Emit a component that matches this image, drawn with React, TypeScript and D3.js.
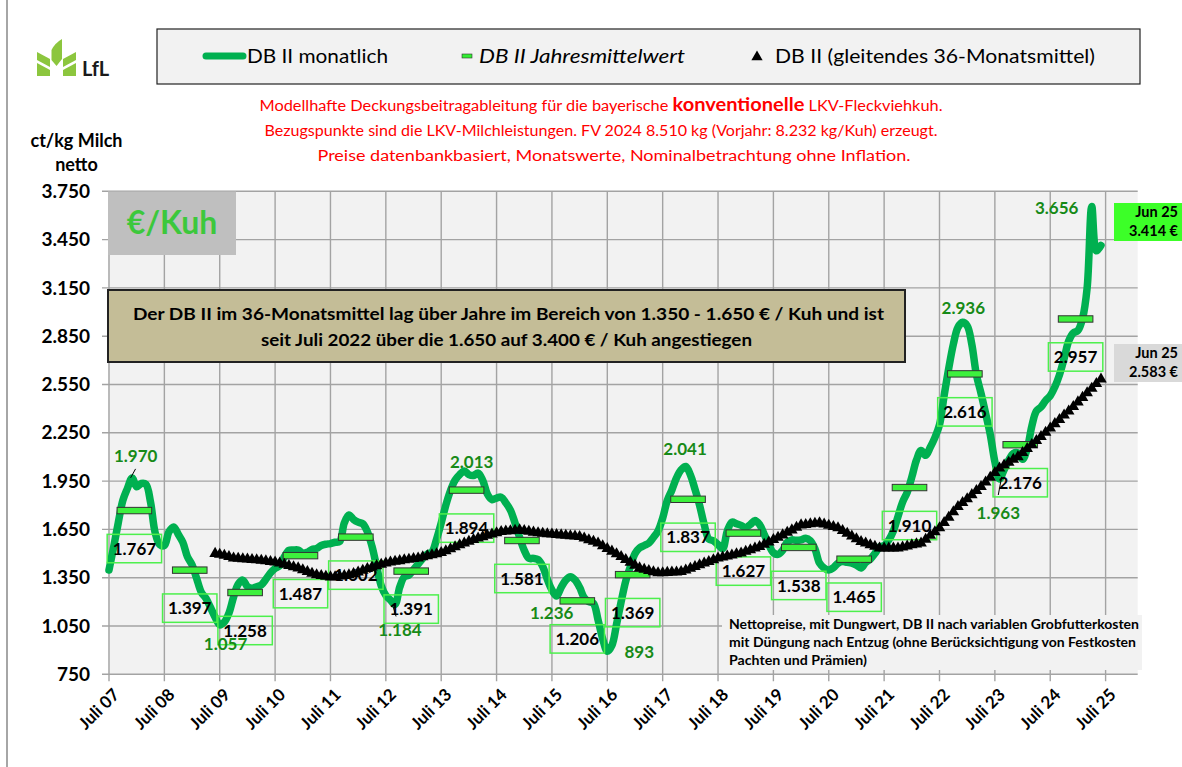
import React from "react";
import * as d3 from "d3";

// ---------- DATA ----------
const yearLabels = [
  "Juli 07", "Juli 08", "Juli 09", "Juli 10", "Juli 11", "Juli 12", "Juli 13",
  "Juli 14", "Juli 15", "Juli 16", "Juli 17", "Juli 18", "Juli 19", "Juli 20",
  "Juli 21", "Juli 22", "Juli 23", "Juli 24", "Juli 25",
];

const yTickValues = [750, 1050, 1350, 1650, 1950, 2250, 2550, 2850, 3150, 3450, 3750];

// DB II monatlich, Jul 07 – Jun 25 (€/Kuh)
const monthlyDB = [
  1398, 1540, 1690, 1830, 1905, 1970, 1915, 1935, 1930, 1820, 1630, 1555,
  1550, 1635, 1665, 1620, 1570, 1480, 1430, 1345, 1260, 1222, 1165, 1105,
  1057, 1075, 1130, 1230, 1310, 1335, 1295, 1285, 1294, 1305, 1340, 1380,
  1408, 1425, 1480, 1520, 1522, 1522, 1502, 1508, 1525, 1532, 1550, 1558,
  1562, 1570, 1575, 1690, 1740, 1712, 1695, 1685, 1636, 1545, 1420, 1300,
  1240, 1211, 1184, 1290, 1355, 1366, 1400, 1435, 1470, 1497, 1510, 1590,
  1690, 1800, 1890, 1955, 1990, 2013, 1990, 1985, 2000, 1955, 1870, 1835,
  1845, 1850, 1815, 1770, 1690, 1600, 1520, 1470, 1470, 1462, 1420, 1340,
  1274, 1236, 1290, 1335, 1356, 1336, 1290, 1225, 1200, 1191, 1087, 970,
  893, 930, 1060, 1200, 1330, 1420, 1500, 1535, 1550, 1565, 1600, 1640,
  1720, 1830, 1895, 1970, 2020, 2041, 1990, 1900, 1800, 1680, 1590, 1580,
  1555, 1530, 1640, 1695, 1685, 1675, 1662, 1680, 1705, 1680, 1620, 1555,
  1505, 1495, 1520, 1570, 1585, 1582, 1585, 1595, 1580, 1530, 1440, 1410,
  1398, 1412, 1440, 1450, 1445, 1440, 1428, 1410, 1445, 1465, 1500, 1540,
  1550, 1584, 1640, 1730, 1820, 1880, 1975, 2080, 2140, 2110, 2160, 2220,
  2300, 2480, 2650, 2800, 2905, 2936, 2915, 2800, 2610, 2495, 2370, 2240,
  2070, 1963, 2020, 2080, 2122, 2125, 2085, 2150, 2290, 2385, 2410, 2450,
  2480, 2535, 2610, 2710, 2820, 2870, 2885, 2960, 3150, 3656, 3380, 3414,
];

// DB II gleitendes 36-Monatsmittel, starts at month index 23 (Jun 09)
const avg36StartIndex = 23;
const avg36 = [
  1500,
  1494, 1488, 1480, 1472, 1470, 1467, 1465, 1462, 1460, 1457, 1454, 1450,
  1447, 1440, 1432, 1425, 1417, 1410, 1399, 1388, 1377, 1367, 1362, 1358,
  1354, 1355, 1359, 1363, 1367, 1375, 1385, 1395, 1406, 1416, 1424, 1432,
  1440, 1447, 1451, 1455, 1460, 1464, 1468, 1472, 1479, 1485, 1492, 1498,
  1505, 1517, 1529, 1541, 1553, 1564, 1575, 1586, 1596, 1604, 1612, 1620,
  1628, 1636, 1639, 1641, 1644, 1646, 1642, 1637, 1632, 1628, 1625, 1622,
  1620, 1617, 1615, 1613, 1610, 1608, 1605, 1595, 1585, 1575, 1565, 1548,
  1531, 1514, 1497, 1480, 1462, 1445, 1427, 1410, 1402, 1394, 1386, 1379,
  1380, 1382, 1384, 1385, 1387, 1397, 1408, 1418, 1429, 1440, 1450, 1461,
  1472, 1478, 1484, 1490, 1497, 1503, 1513, 1523, 1533, 1543, 1557, 1571,
  1586, 1600, 1615, 1631, 1646, 1662, 1677, 1680, 1684, 1687, 1690, 1682,
  1675, 1667, 1659, 1642, 1625, 1608, 1591, 1574, 1564, 1554, 1544, 1534,
  1534, 1534, 1534, 1534, 1540, 1546, 1553, 1559, 1565, 1588, 1612, 1635,
  1659, 1692, 1725, 1758, 1791, 1816, 1840, 1865, 1890, 1915, 1944, 1973,
  2002, 2031, 2049, 2066, 2084, 2101, 2126, 2151, 2176, 2201, 2226, 2253,
  2279, 2306, 2332, 2359, 2385, 2412, 2441, 2469, 2498, 2526, 2555, 2583,
];

// DB II Jahresmittelwert (Juli – Juni)
const annualMeans = [1767, 1397, 1258, 1487, 1602, 1391, 1894, 1581, 1206, 1369, 1837, 1627, 1538, 1465, 1910, 2616, 2176, 2957];

// Extremwerte (month index) that carry green labels
const extremeIndices = [5, 24, 62, 77, 97, 108, 125, 185, 193, 213];

const lastMonthLabel = "Jun 25";

// ---------- LAYOUT (not data) ----------
const extremeOffsets: Record<number, [number, number]> = {
  5: [3.6, -22], 24: [5.8, 19.4], 62: [4.9, 25.6], 77: [7.4, -9.5], 97: [-4.9, 17.2],
  108: [32, 0.4], 125: [-0.7, -17.1], 185: [0.7, -14.1], 193: [-1.2, 33.7], 213: [-35.1, 1.3],
};

const F = "Lato, 'Open Sans', 'DejaVu Sans', sans-serif";
const fmt = (v: number) => (v >= 1000 ? d3.format(",")(v).replace(/,/g, ".") : String(v));

export default function App() {
  const W = 1182, H = 767;
  const plot = { left: 108, right: 1137.7, top: 191.3, bottom: 674.3 };
  const x = d3.scaleLinear().domain([0, 216]).range([109, 1105.6]);
  const y = d3.scaleLinear().domain([750, 3750]).range([plot.bottom, plot.top]);

  const monthlyPath = d3
    .line<number>()
    .x((_, i) => x(i))
    .y((d) => y(d))
    .curve(d3.curveCatmullRom.alpha(0.5))(monthlyDB) as string;

  const triPath = d3.symbol().type(d3.symbolTriangle).size(58)() as string;
  const triLegend = d3.symbol().type(d3.symbolTriangle).size(55)() as string;

  const green = "#00b050";
  const labelGreen = "#178a17";
  const grid = "#a3a3a3";

  const lastVal = monthlyDB[monthlyDB.length - 1];
  const lastAvg = avg36[avg36.length - 1];

  return (
    <div style={{ position: "absolute", left: 0, top: 0 }}>
      <svg width={W} height={H} style={{ display: "block", background: "#fff" }} fontFamily={F}>
        {/* left frame line */}
        <line x1={7} x2={7} y1={0} y2={H} stroke="#a6a6a6" strokeWidth={2} />

        {/* logo */}
        <g fill="#8cc63e">
          <path d="M37,63 L50,70 L50,76 L37,76 Z" />
          <path d="M37,52 L50,59 L50,67 L37,60 Z" />
          <path d="M51.5,50 Q55,43 62,39 L62,59 L56.5,66 L51.5,60 Z" />
          <path d="M63,59 L76,52 L76,60 L63,67 Z" />
          <path d="M63,70 L76,63 L76,76 L63,76 Z" />
        </g>
        <text x={82} y={76} fontSize={20} fontWeight="bold" fill="#1a1a1a">LfL</text>

        {/* legend */}
        <rect x={157} y={29} width={983} height={55} fill="#f2f2f2" stroke="#222" strokeWidth={1.2} />
        <line x1={206} x2={243} y1={56} y2={56} stroke={green} strokeWidth={7} strokeLinecap="round" />
        <text x={247} y={63} fontSize={20} fill="#000" textLength={141} lengthAdjust="spacingAndGlyphs">DB II monatlich</text>
        <rect x={462} y={54} width={10} height={4} fill="#33ee33" stroke="#333" strokeWidth={0.6} />
        <text x={479} y={63} fontSize={20} fontStyle="italic" fill="#000" textLength={206} lengthAdjust="spacingAndGlyphs">DB II Jahresmittelwert</text>
        <path d={triLegend} transform="translate(757,57)" fill="#000" />
        <text x={775} y={63} fontSize={20} fill="#000" textLength={320} lengthAdjust="spacingAndGlyphs">DB II (gleitendes 36-Monatsmittel)</text>

        {/* title */}
        <g fill="#ff0000" textAnchor="middle">
          <text x={601} y={111} fontSize={15.5} textLength={683} lengthAdjust="spacingAndGlyphs">
            Modellhafte Deckungsbeitragableitung  für die bayerische{" "}
            <tspan fontWeight="bold" fontSize={19}>konventionelle</tspan> LKV-Fleckviehkuh.
          </text>
          <text x={601} y={136} fontSize={15.5} textLength={673} lengthAdjust="spacingAndGlyphs">
            Bezugspunkte sind die LKV-Milchleistungen. FV 2024 8.510 kg (Vorjahr: 8.232 kg/Kuh) erzeugt.
          </text>
          <text x={614} y={161} fontSize={15.5} textLength={593} lengthAdjust="spacingAndGlyphs">
            Preise datenbankbasiert, Monatswerte, Nominalbetrachtung ohne Inflation.
          </text>
        </g>

        {/* y-axis title */}
        <g fontWeight="bold" fontSize={18} textAnchor="middle" fill="#000">
          <text x={76.5} y={147}>ct/kg Milch</text>
          <text x={76.5} y={171}>netto</text>
        </g>

        {/* plot area */}
        <rect x={plot.left} y={plot.top} width={plot.right - plot.left} height={plot.bottom - plot.top} fill="#f2f2f2" />
        {yTickValues.map((v) => (
          <g key={"yg" + v}>
            <line x1={plot.left - 6} x2={plot.right} y1={y(v)} y2={y(v)} stroke={grid} strokeWidth={1.4} />
            <text x={90} y={y(v)} dy="0.35em" textAnchor="end" fontSize={19} fontWeight="bold" fill="#000">
              {fmt(v)}
            </text>
          </g>
        ))}
        {yearLabels.map((lab, k) => {
          const xx = x(k * 12);
          return (
            <g key={"xg" + k}>
              <line x1={xx} x2={xx} y1={plot.top} y2={plot.bottom + 7} stroke={grid} strokeWidth={1.4} />
              <text
                transform={`translate(${xx + 3},${plot.bottom + 13}) rotate(-45)`}
                textAnchor="end"
                dy="0.7em"
                fontSize={17}
                fontWeight="bold"
                fill="#000"
              >
                {lab}
              </text>
            </g>
          );
        })}

        {/* €/Kuh box */}
        <rect x={108} y={191.5} width={128} height={63.5} fill="#bfbfbf" />
        <text x={172} y={234} textAnchor="middle" fontSize={32} fontWeight="bold" fill="#3cc83c">€/Kuh</text>

        {/* monthly line */}
        <path d={monthlyPath} fill="none" stroke={green} strokeWidth={7.5} strokeLinejoin="round" strokeLinecap="round" />

        {/* annual means: bars + boxed labels */}
        {annualMeans.map((v, k) => {
          const cx = x(k * 12 + 5.5);
          const cy = y(v);
          return (
            <g key={"am" + k}>
              <rect x={cx - 17.3} y={cy - 3.2} width={34.6} height={6.4} fill="#3df03d" stroke="#333" strokeWidth={1} />
              <rect x={cx - 27.2} y={cy + 38 - 14.2} width={54.4} height={28.4} fill="none" stroke="#4cf04c" strokeWidth={1.5} />
              <text x={cx} y={cy + 38} dy="0.36em" textAnchor="middle" fontSize={17} fontWeight="bold" fill="#000">
                {fmt(v)}
              </text>
            </g>
          );
        })}

        {/* 36-month moving average triangles */}
        {avg36.map((v, j) => (
          <path key={"t" + j} d={triPath} transform={`translate(${x(avg36StartIndex + j)},${y(v)})`} fill="#000" />
        ))}

        {/* extreme labels */}
        {extremeIndices.map((i) => {
          const [dx, dy] = extremeOffsets[i];
          return (
            <text key={"ex" + i} x={x(i) + dx} y={y(monthlyDB[i]) + dy} dy="0.36em" textAnchor="middle" fontSize={17} fontWeight="bold" fill={labelGreen}>
              {fmt(monthlyDB[i])}
            </text>
          );
        })}
        {/* leader lines */}
        <line x1={x(5) + 3.5} y1={y(monthlyDB[5]) - 9} x2={x(5) - 1.5} y2={y(monthlyDB[5])} stroke="#000" strokeWidth={1} />
        <line x1={x(193) + 2.2} y1={y(monthlyDB[193]) - 2.3} x2={x(193) - 1.2} y2={y(monthlyDB[193]) + 16} stroke="#000" strokeWidth={1} />
        <line x1={x(62) - 2} y1={y(monthlyDB[62]) + 2} x2={x(62) + 1} y2={y(monthlyDB[62]) + 12} stroke="#000" strokeWidth={1} />

        {/* annotation box */}
        <rect x={108} y={290} width={797} height={72} fill="#c4bd97" stroke="#222" strokeWidth={2} />
        <g fontWeight="bold" fontSize={17} fill="#000" textAnchor="middle">
          <text x={508.5} y={320} textLength={751} lengthAdjust="spacingAndGlyphs">
            Der DB II im 36-Monatsmittel lag über Jahre im Bereich von 1.350 - 1.650 € / Kuh und ist
          </text>
          <text x={506.5} y={346} textLength={491} lengthAdjust="spacingAndGlyphs">
            seit Juli 2022 über die 1.650 auf 3.400 € / Kuh angestiegen
          </text>
        </g>

        {/* note box */}
        <rect x={722} y={615} width={420} height={55} fill="#f2f2f2" />
        <g fontWeight="bold" fontSize={12.5} fill="#000">
          <text x={729} y={629} textLength={410} lengthAdjust="spacingAndGlyphs">Nettopreise, mit Dungwert, DB II nach variablen Grobfutterkosten</text>
          <text x={729} y={647} textLength={407} lengthAdjust="spacingAndGlyphs">mit Düngung nach Entzug  (ohne Berücksichtigung von Festkosten</text>
          <text x={729} y={665} textLength={138} lengthAdjust="spacingAndGlyphs">Pachten und Prämien)</text>
        </g>

        {/* last value boxes */}
        <rect x={1114} y={203} width={70} height={38} fill="#3cff28" />
        <g fontWeight="bold" fontSize={14.5} fill="#000" textAnchor="end">
          <text x={1178} y={217}>{lastMonthLabel}</text>
          <text x={1178} y={236}>{fmt(lastVal)} €</text>
        </g>
        <rect x={1114} y={344} width={70} height={38} fill="#d9d9d9" />
        <g fontWeight="bold" fontSize={14.5} fill="#000" textAnchor="end">
          <text x={1178} y={358}>{lastMonthLabel}</text>
          <text x={1178} y={377}>{fmt(lastAvg)} €</text>
        </g>
      </svg>
    </div>
  );
}
